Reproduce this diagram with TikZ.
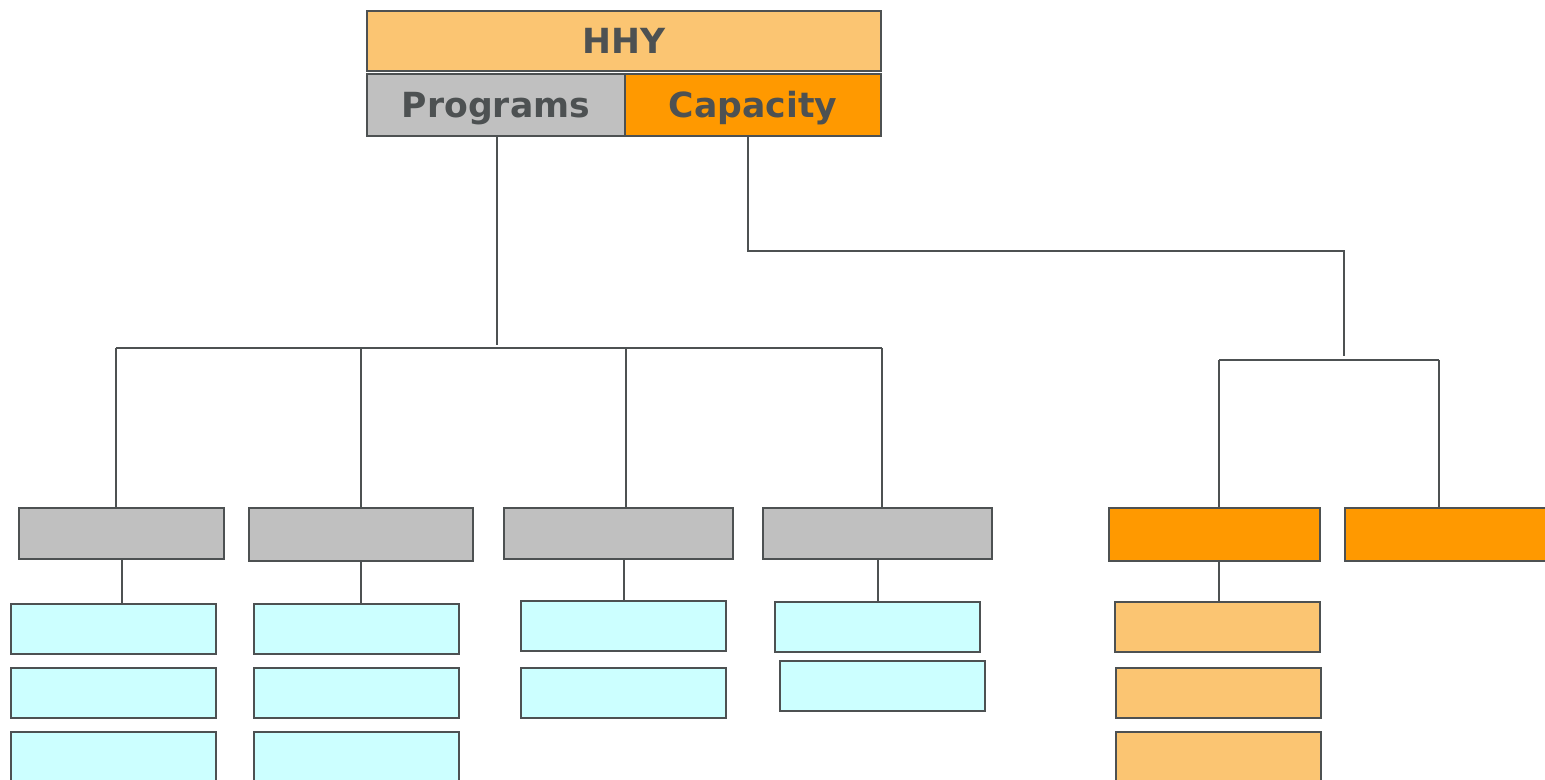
\documentclass[tikz,border=0pt]{standalone}
\usepackage{fontspec}
\setmainfont{DejaVu Sans}
\definecolor{edgegray}{HTML}{4D5152}
\definecolor{peach}{HTML}{FBC572}
\definecolor{boxgray}{HTML}{C0C0C0}
\definecolor{deeporange}{HTML}{FF9900}
\definecolor{palecyan}{HTML}{CCFFFF}
\tikzset{
  box/.style={draw=edgegray, line width=1pt, inner sep=0pt, text=edgegray,
    text height=12.8pt, text depth=0pt,
    font=\fontsize{17.3}{20}\selectfont\bfseries},
  headbox/.style={box, fill=peach, minimum width=257pt, minimum height=30pt},
  progbox/.style={box, fill=boxgray, minimum height=31pt},
  capbox/.style={box, fill=deeporange, minimum height=31pt},
  unitbox/.style={box, fill=boxgray, minimum height=25.5pt},
  arealbox/.style={box, fill=deeporange, minimum width=105.5pt, minimum height=26.5pt},
  itembox/.style={box, fill=palecyan, minimum width=102.5pt, minimum height=25pt},
  peachbox/.style={box, fill=peach, minimum width=102.5pt, minimum height=25pt},
  link/.style={draw=edgegray, line width=1pt}
}
\begin{document}
\begin{tikzpicture}[x=0.5pt, y=-0.5pt]
      \clip (0,0) rectangle (1545,780);
      \fill[white] (0,0) rectangle (1545,780);

      \node[headbox] (hhy) at (624,41) {HHY};
      \node[progbox, minimum width=129pt] (prog) at (496,105) {Programs};
      \node[capbox, minimum width=128pt] (cap) at (753,105) {Capacity};

      \node[unitbox, minimum width=102.5pt] (g1) at (121.5,533.5) {};
      \node[unitbox, minimum width=112pt, minimum height=26.5pt] (g2) at (361,534.5) {};
      \node[unitbox, minimum width=114.5pt] (g3) at (618.5,533.5) {};
      \node[unitbox, minimum width=114.5pt] (g4) at (877.5,533.5) {};
      \node[arealbox] (o1) at (1214.5,534.5) {};
      \node[arealbox] (o2) at (1450.5,534.5) {};

      \node[itembox] (c11) at (113.5,629) {};
      \node[itembox] (c12) at (113.5,693) {};
      \node[itembox] (c13) at (113.5,757) {};
      \node[itembox] (c21) at (356,629) {};
      \node[itembox] (c22) at (356,693) {};
      \node[itembox] (c23) at (356,757) {};
      \node[itembox] (c31) at (623.5,626) {};
      \node[itembox] (c32) at (623.5,693) {};
      \node[itembox] (c41) at (877.5,627) {};
      \node[itembox] (c42) at (882.5,686) {};
      \node[peachbox] (p1) at (1217.5,627) {};
      \node[peachbox] (p2) at (1218.5,693) {};
      \node[peachbox] (p3) at (1218.5,757) {};

      \coordinate (pb) at (497,345);
      \coordinate (b1) at (116,348);
      \coordinate (b2) at (361,348);
      \coordinate (b3) at (626,348);
      \coordinate (b4) at (882,348);
      \coordinate (cj) at (748,251);
      \coordinate (cr) at (1344,251);
      \coordinate (crb) at (1344,356);
      \coordinate (ol) at (1219,360);
      \coordinate (orr) at (1439,360);

      \path[link] (prog.south -| pb) -- (pb);
      \path[link] (b1) -- (b4);
      \path[link] (b1) -- (b1 |- g1.north);
      \path[link] (b2) -- (b2 |- g2.north);
      \path[link] (b3) -- (b3 |- g3.north);
      \path[link] (b4) -- (b4 |- g4.north);
      \path[link] (cap.south -| cj) -- (cj) -- (cr) -- (crb);
      \path[link] (ol) -- (orr);
      \path[link] (ol) -- (ol |- o1.north);
      \path[link] (orr) -- (orr |- o2.north);

      \path[link] (g1.south) -- (g1.south |- c11.north);
      \path[link] (g2.south) -- (g2.south |- c21.north);
      \path[link] (c31.north |- g3.south) -- (c31.north);
      \path[link] (g4.south) -- (g4.south |- c41.north);
      \path[link] (ol |- o1.south) -- (ol |- p1.north);
    \end{tikzpicture}
\end{document}
